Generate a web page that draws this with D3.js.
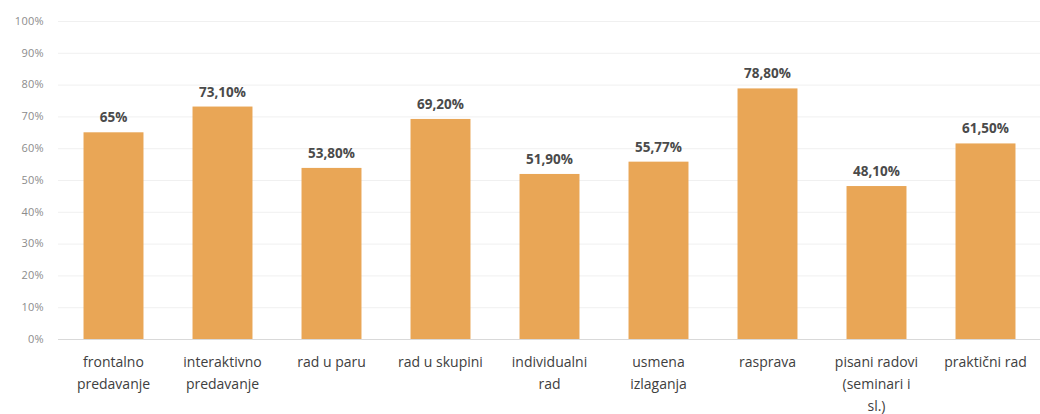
<!DOCTYPE html>
<html><head><meta charset="utf-8">
<script src="https://cdn.jsdelivr.net/npm/d3@7"></script>
<style>body{margin:0;background:#fff}svg{display:block}text{font-family:"Open Sans",Lato,sans-serif}</style>
</head><body>
<svg id="c" width="1040" height="414"></svg>
<script>
const categories = ["frontalno\npredavanje","interaktivno\npredavanje","rad u paru","rad u skupini","individualni\nrad","usmena\nizlaganja","rasprava","pisani radovi\n(seminari i\nsl.)","praktični rad"];
const values = [65, 73.1, 53.8, 69.2, 51.9, 55.77, 78.8, 48.1, 61.5];
const valueLabels = ["65%","73,10%","53,80%","69,20%","51,90%","55,77%","78,80%","48,10%","61,50%"];
const yTicks = [0,10,20,30,40,50,60,70,80,90,100];

const svg = d3.select("#c");
const x = d3.scaleBand().domain(categories).range([59,1040]).paddingInner(0.45).paddingOuter(0.225);
const y = d3.scaleLinear().domain([0,100]).range([339,21]);

svg.append("g").selectAll("line").data(yTicks).join("line")
  .attr("x1",58).attr("x2",1040).attr("y1",d=>y(d)+0.5).attr("y2",d=>y(d)+0.5)
  .attr("stroke",d=>d===0?"#d9d9d9":"#f0f0f0").attr("stroke-width",1);

svg.append("g").selectAll("text").data(yTicks).join("text")
  .attr("x",44).attr("y",d=>y(d)).attr("dy","0.35em").attr("text-anchor","end")
  .attr("font-size",11).attr("letter-spacing","0.3").attr("fill","#8c8c8c").text(d=>d+"%");

svg.append("g").selectAll("rect").data(values).join("rect")
  .attr("x",(d,i)=>x(categories[i])).attr("width",x.bandwidth())
  .attr("y",d=>y(d)).attr("height",d=>y(0)-y(d)).attr("fill","#E9A656");

svg.append("g").selectAll("text").data(values).join("text")
  .attr("x",(d,i)=>x(categories[i])+x.bandwidth()/2).attr("y",d=>y(d)-10)
  .attr("text-anchor","middle").attr("font-size",13.5).attr("font-weight","bold").attr("fill","#4a4a4a")
  .text((d,i)=>valueLabels[i]);

const cg = svg.append("g").selectAll("text").data(categories).join("text")
  .attr("x",d=>x(d)+x.bandwidth()/2).attr("y",367).attr("text-anchor","middle")
  .attr("font-size",14).attr("fill","#404040");
cg.each(function(d){
  const t = d3.select(this);
  d.split("\n").forEach((l,i)=>{
    t.append("tspan").attr("x",x(d)+x.bandwidth()/2).attr("dy",i===0?0:22).text(l);
  });
});
</script>
</body></html>
